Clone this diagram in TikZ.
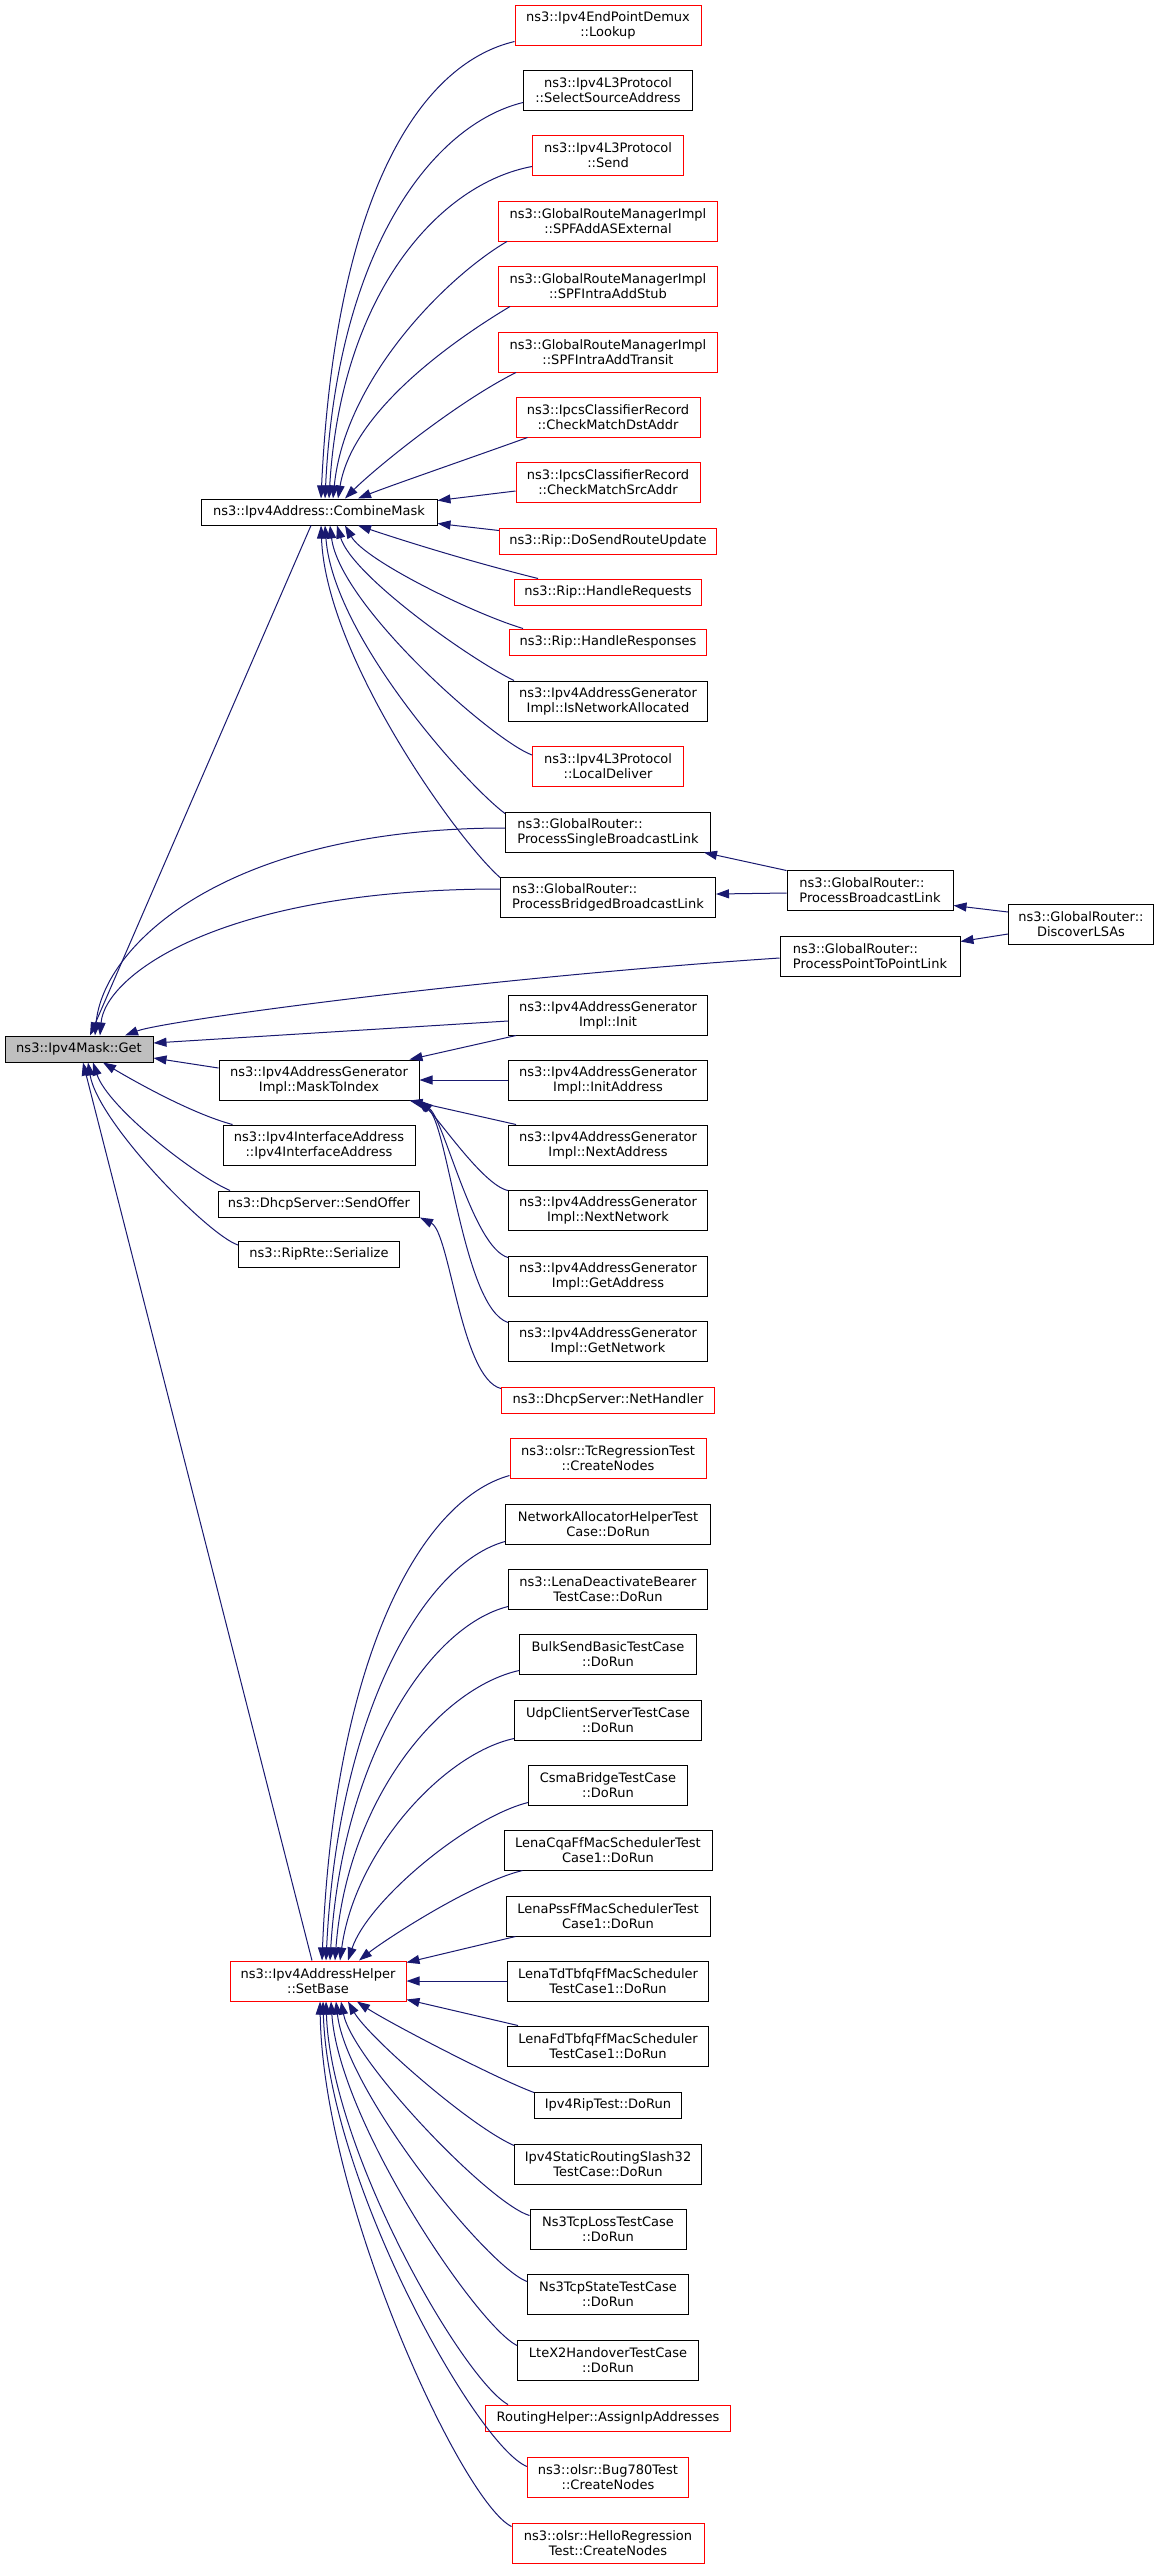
\documentclass[tikz,border=0pt]{standalone}
\usepackage{fontspec}
\setmainfont{DejaVu Sans}
\usetikzlibrary{arrows.meta}
\definecolor{edgec}{HTML}{191970}
\definecolor{getfill}{HTML}{BFBFBF}
\begin{document}
\begin{tikzpicture}[x=1pt,y=-1pt,
  box/.style={draw=black, line width=1pt, fill=white, inner sep=2pt, align=center,
              font=\fontsize{13}{15}\selectfont},
  rbox/.style={box, draw=red},
  two/.style={minimum height=40pt},
  one/.style={minimum height=26pt},
  e/.style={draw=edgec, line width=1pt, -{Triangle[length=13pt,width=9pt]}}]
\useasboundingbox[fill=white] (0,0) rectangle (1155,2568);

% ---------- column 1/2 ----------
\node[box, fill=getfill, one, minimum width=148pt] (get) at (79,1049) {ns3::Ipv4Mask::Get};
\node[box, one, minimum width=236pt] (cm) at (319,512) {ns3::Ipv4Address::CombineMask};
\node[box, two, minimum width=200pt] (mti) at (319,1080) {ns3::Ipv4AddressGenerator\\Impl::MaskToIndex};
\node[box, two, minimum width=192pt] (iia) at (319,1145) {ns3::Ipv4InterfaceAddress\\::Ipv4InterfaceAddress};
\node[box, one, minimum width=201pt] (so) at (319,1204) {ns3::DhcpServer::SendOffer};
\node[box, one, minimum width=161pt] (rr) at (319,1254) {ns3::RipRte::Serialize};
\node[rbox, two, minimum width=176pt] (sb) at (318,1981) {ns3::Ipv4AddressHelper\\::SetBase};

% ---------- column 3 (top) ----------
\node[rbox, two, minimum width=186pt] (lookup) at (608,25) {ns3::Ipv4EndPointDemux\\::Lookup};
\node[box, two, minimum width=169pt] (select) at (608,90) {ns3::Ipv4L3Protocol\\::SelectSourceAddress};
\node[rbox, two, minimum width=151pt] (send) at (608,155) {ns3::Ipv4L3Protocol\\::Send};
\node[rbox, two, minimum width=219pt] (spfadd) at (608,221) {ns3::GlobalRouteManagerImpl\\::SPFAddASExternal};
\node[rbox, two, minimum width=219pt] (stub) at (608,286) {ns3::GlobalRouteManagerImpl\\::SPFIntraAddStub};
\node[rbox, two, minimum width=219pt] (transit) at (608,352) {ns3::GlobalRouteManagerImpl\\::SPFIntraAddTransit};
\node[rbox, two, minimum width=184pt] (dst) at (608,417) {ns3::IpcsClassifierRecord\\::CheckMatchDstAddr};
\node[rbox, two, minimum width=184pt] (src) at (608,482) {ns3::IpcsClassifierRecord\\::CheckMatchSrcAddr};
\node[rbox, one, minimum width=217pt] (dosend) at (608,541) {ns3::Rip::DoSendRouteUpdate};
\node[rbox, one, minimum width=187pt] (hreq) at (608,592) {ns3::Rip::HandleRequests};
\node[rbox, one, minimum width=197pt] (hresp) at (608,642) {ns3::Rip::HandleResponses};
\node[box, two, minimum width=199pt] (isna) at (608,701) {ns3::Ipv4AddressGenerator\\Impl::IsNetworkAllocated};
\node[rbox, two, minimum width=151pt] (ld) at (608,766) {ns3::Ipv4L3Protocol\\::LocalDeliver};
\node[box, two, minimum width=205pt, align=left] (psbl) at (608,832) {ns3::GlobalRouter::\\ProcessSingleBroadcastLink};
\node[box, two, minimum width=215pt, align=left] (pbbl) at (608,897) {ns3::GlobalRouter::\\ProcessBridgedBroadcastLink};
\node[box, two, minimum width=199pt] (init) at (608,1015) {ns3::Ipv4AddressGenerator\\Impl::Init};
\node[box, two, minimum width=199pt] (initaddr) at (608,1080) {ns3::Ipv4AddressGenerator\\Impl::InitAddress};
\node[box, two, minimum width=199pt] (nextaddr) at (608,1145) {ns3::Ipv4AddressGenerator\\Impl::NextAddress};
\node[box, two, minimum width=199pt] (nextnet) at (608,1210) {ns3::Ipv4AddressGenerator\\Impl::NextNetwork};
\node[box, two, minimum width=199pt] (getaddr) at (608,1276) {ns3::Ipv4AddressGenerator\\Impl::GetAddress};
\node[box, two, minimum width=199pt] (getnet) at (608,1341) {ns3::Ipv4AddressGenerator\\Impl::GetNetwork};
\node[rbox, one, minimum width=213pt] (nh) at (608,1400) {ns3::DhcpServer::NetHandler};

% ---------- columns 4/5 ----------
\node[box, two, minimum width=166pt, align=left] (pbl) at (870,890) {ns3::GlobalRouter::\\ProcessBroadcastLink};
\node[box, two, minimum width=180pt, align=left] (p2p) at (870,956) {ns3::GlobalRouter::\\ProcessPointToPointLink};
\node[box, two, minimum width=145pt] (dl) at (1081,924) {ns3::GlobalRouter::\\DiscoverLSAs};

% ---------- column 3 (bottom) ----------
\node[rbox, two, minimum width=196pt] (tc) at (608,1458) {ns3::olsr::TcRegressionTest\\::CreateNodes};
\node[box, two, minimum width=205pt] (na) at (608,1524) {NetworkAllocatorHelperTest\\Case::DoRun};
\node[box, two, minimum width=199pt] (lda) at (608,1589) {ns3::LenaDeactivateBearer\\TestCase::DoRun};
\node[box, two, minimum width=177pt] (bs) at (608,1654) {BulkSendBasicTestCase\\::DoRun};
\node[box, two, minimum width=187pt] (ucs) at (608,1720) {UdpClientServerTestCase\\::DoRun};
\node[box, two, minimum width=159pt] (cb) at (608,1785) {CsmaBridgeTestCase\\::DoRun};
\node[box, two, minimum width=208pt] (cqa) at (608,1850) {LenaCqaFfMacSchedulerTest\\Case1::DoRun};
\node[box, two, minimum width=204pt] (pss) at (608,1916) {LenaPssFfMacSchedulerTest\\Case1::DoRun};
\node[box, two, minimum width=201pt] (td) at (608,1981) {LenaTdTbfqFfMacScheduler\\TestCase1::DoRun};
\node[box, two, minimum width=201pt] (fd) at (608,2046) {LenaFdTbfqFfMacScheduler\\TestCase1::DoRun};
\node[box, one, minimum width=147pt] (rip) at (608,2105) {Ipv4RipTest::DoRun};
\node[box, two, minimum width=187pt] (s32) at (608,2164) {Ipv4StaticRoutingSlash32\\TestCase::DoRun};
\node[box, two, minimum width=156pt] (loss) at (608,2229) {Ns3TcpLossTestCase\\::DoRun};
\node[box, two, minimum width=161pt] (state) at (608,2294) {Ns3TcpStateTestCase\\::DoRun};
\node[box, two, minimum width=181pt] (x2) at (608,2360) {LteX2HandoverTestCase\\::DoRun};
\node[rbox, one, minimum width=245pt] (rh) at (608,2418) {RoutingHelper::AssignIpAddresses};
\node[rbox, two, minimum width=161pt] (bug) at (608,2477) {ns3::olsr::Bug780Test\\::CreateNodes};
\node[rbox, two, minimum width=192pt] (hello) at (608,2543) {ns3::olsr::HelloRegression\\Test::CreateNodes};

% ---------- edges into CombineMask ----------
\draw[e] ([yshift=4pt]lookup.south west) .. controls +(-97,23) and +(14,-299) .. ([xshift=2pt]cm.north);
\draw[e] ([yshift=8pt]select.south west) .. controls +(-90,22) and +(12,-250) .. ([xshift=6pt]cm.north);
\draw[e] ([yshift=9pt]send.south west) .. controls +(-92,17) and +(12,-206) .. ([xshift=10pt]cm.north);
\draw[e] ([xshift=9pt]spfadd.south west) .. controls +(-60,35) and +(12,-120) .. ([xshift=14pt]cm.north);
\draw[e] ([xshift=12pt]stub.south west) .. controls +(-50,30) and +(15,-90) .. ([xshift=19pt]cm.north);
\draw[e] ([xshift=18pt]transit.south west) .. controls +(-60,30) and +(30,-30) .. ([xshift=26pt]cm.north);
\draw[e] ([xshift=12pt]dst.south west) .. controls +(-50,18) and +(30,-12) .. ([xshift=39pt]cm.north);
\draw[e] ([yshift=-9pt]src.west) -- ([yshift=-2pt]cm.north east);
\draw[e] ([yshift=-3pt]dosend.north west) -- ([yshift=2pt]cm.south east);
\draw[e] ([xshift=24pt]hreq.north west) .. controls +(-60,-15) and +(60,20) .. ([xshift=39pt]cm.south);
\draw[e] ([xshift=14pt]hresp.north west) .. controls +(-50,-15) and +(20,35) .. ([xshift=26pt]cm.south);
\draw[e] ([xshift=6pt]isna.north west) .. controls +(-45,-22) and +(15,50) .. ([xshift=18pt]cm.south);
\draw[e] ([yshift=11pt]ld.west) .. controls +(-40,-15) and +(10,80) .. ([xshift=11pt]cm.south);
\draw[e] ([yshift=-2pt]psbl.north west) .. controls +(-40,-30) and +(8,110) .. ([xshift=6pt]cm.south);
\draw[e] ([yshift=-1pt]pbbl.north west) .. controls +(-45,-40) and +(5,130) .. ([xshift=2pt]cm.south);

% ---------- edges into Ipv4Mask::Get ----------
\draw[e] ([xshift=-8pt]cm.south) -- ([xshift=11pt]get.north);
\draw[e] ([yshift=4pt]psbl.west) .. controls +(-280,0) and +(8,-90) .. ([xshift=16pt]get.north);
\draw[e] ([yshift=8pt]pbbl.west) .. controls +(-280,0) and +(5,-60) .. ([xshift=21pt]get.north);
\draw[e] ([yshift=-2pt]p2p.west) .. controls +(-300,20) and +(40,-15) .. ([xshift=46pt]get.north);
\draw[e] ([yshift=-6pt]init.west) -- ([yshift=6pt]get.east);
\draw[e] ([yshift=12pt]mti.west) -- ([yshift=-9pt]get.east);
\draw[e] ([xshift=10pt]iia.north west) .. controls +(-45,-12) and +(20,12) .. ([xshift=24pt]get.south);
\draw[e] ([xshift=12pt]so.north west) .. controls +(-35,-15) and +(15,45) .. ([xshift=14pt]get.south);
\draw[e] ([yshift=9pt]rr.west) .. controls +(-30,-10) and +(10,60) .. ([xshift=9pt]get.south);
\draw[e] ([xshift=-6pt]sb.north) -- ([xshift=4pt]get.south);

% ---------- edges into MaskToIndex ----------
\draw[e] ([xshift=8pt]init.south west) -- ([xshift=-10pt]mti.north east);
\draw[e] (initaddr.west) -- (mti.east);
\draw[e] ([xshift=8pt]nextaddr.north west) -- ([xshift=-10pt]mti.south east);
\draw[e] ([yshift=-1pt]nextnet.north west) .. controls +(-25,-5) and +(20,15) .. ([xshift=-3pt]mti.south east);
\draw[e] ([yshift=-2pt]getaddr.north west) .. controls +(-35,-10) and +(25,20) .. (mti.south east);
\draw[e] ([yshift=-2pt]getnet.north west) .. controls +(-45,-15) and +(30,25) .. ([xshift=-1pt]mti.south east);

% ---------- other upper edges ----------
\draw[e] ([yshift=-2pt]nh.north west) .. controls +(-40,-10) and +(30,15) .. (so.south east);
\draw[e] ([yshift=-1pt]pbl.north west) -- ([xshift=-7pt]psbl.south east);
\draw[e] ([yshift=-3pt]pbl.west) -- ([yshift=3pt]pbbl.east);
\draw[e] ([yshift=12pt]dl.west) -- ([yshift=5pt]pbl.south east);
\draw[e] ([yshift=-10pt]dl.west) -- ([yshift=-6pt]p2p.north east);

% ---------- edges into SetBase ----------
\draw[e] ([yshift=3pt]tc.south west) .. controls +(-90,25) and +(12,-300) .. ([xshift=4pt]sb.north);
\draw[e] ([yshift=3pt]na.south west) .. controls +(-80,22) and +(12,-250) .. ([xshift=8pt]sb.north);
\draw[e] ([yshift=3pt]lda.south west) .. controls +(-80,20) and +(12,-200) .. ([xshift=12pt]sb.north);
\draw[e] ([yshift=4pt]bs.south west) .. controls +(-80,18) and +(12,-160) .. ([xshift=17pt]sb.north);
\draw[e] ([yshift=2pt]ucs.south west) .. controls +(-70,15) and +(15,-110) .. ([xshift=22pt]sb.north);
\draw[e] ([yshift=3pt]cb.south west) .. controls +(-60,15) and +(20,-60) .. ([xshift=30pt]sb.north);
\draw[e] ([xshift=19pt]cqa.south west) .. controls +(-50,12) and +(25,-20) .. ([xshift=41pt]sb.north);
\draw[e] ([xshift=10pt]pss.south west) -- ([yshift=-2pt]sb.north east);
\draw[e] (td.west) -- (sb.east);
\draw[e] ([xshift=11pt]fd.north west) -- ([yshift=2pt]sb.south east);
\draw[e] ([yshift=-1pt]rip.north west) .. controls +(-40,-15) and +(30,20) .. ([xshift=39pt]sb.south);
\draw[e] ([yshift=-2pt]s32.north west) .. controls +(-45,-20) and +(20,35) .. ([xshift=30pt]sb.south);
\draw[e] ([yshift=-7pt]loss.north west) .. controls +(-40,-12) and +(12,60) .. ([xshift=23pt]sb.south);
\draw[e] ([yshift=-8pt]state.north west) .. controls +(-40,-15) and +(10,90) .. ([xshift=18pt]sb.south);
\draw[e] ([yshift=-6pt]x2.north west) .. controls +(-40,-20) and +(8,120) .. ([xshift=13pt]sb.south);
\draw[e] ([xshift=23pt]rh.north west) .. controls +(-45,-25) and +(5,150) .. ([xshift=8pt]sb.south);
\draw[e] ([yshift=-10pt]bug.north west) .. controls +(-50,-20) and +(5,180) .. ([xshift=5pt]sb.south);
\draw[e] ([yshift=-4pt]hello.north west) .. controls +(-50,-25) and +(3,200) .. ([xshift=2pt]sb.south);
\end{tikzpicture}
\end{document}
